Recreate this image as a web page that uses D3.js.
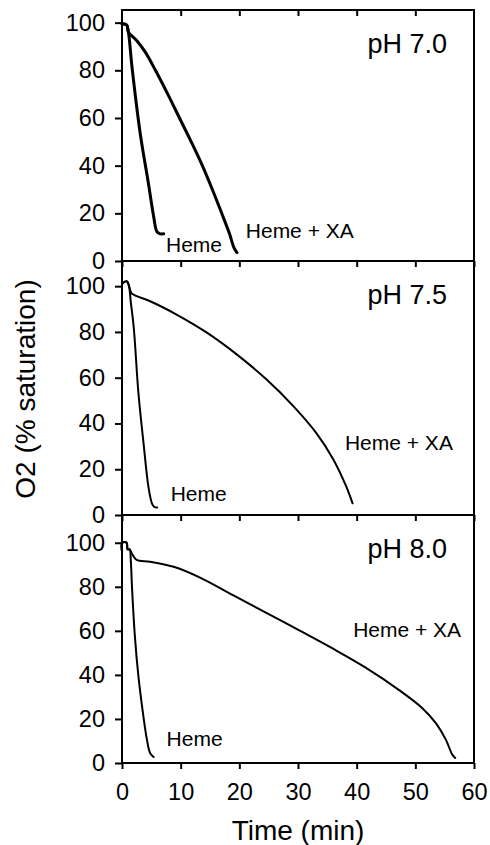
<!DOCTYPE html>
<html>
<head>
<meta charset="utf-8">
<script src="https://cdn.jsdelivr.net/npm/d3@7"></script>
<style>
  body { margin: 0; background: #fff; }
  svg { display: block; font-family: "Liberation Sans", Arial, sans-serif; }
</style>
</head>
<body>
<div id="chart"></div>
<script>
// time (min) ticks and O2 ticks
var timeTicks = [0, 10, 20, 30, 40, 50, 60];
var o2Ticks = [0, 20, 40, 60, 80, 100];
var phLabels = ["pH 7.0", "pH 7.5", "pH 8.0"];

// [time, O2 %]
var ph70Heme = [[0,99.5],[0.8,99],[1.1,96],[1.7,81.5],[3.1,53.6],[4.5,32.6],[5.4,18.6],[5.95,12.3],[6.4,11.5],[7.1,11.4]];
var ph70HemeXA = [[0,99.5],[0.8,99],[1.1,96],[2.5,92.5],[4,87.5],[5.7,80],[7.8,70],[9.8,60],[11.8,50],[13.7,40],[15.4,30],[17.0,20],[18.3,11.6],[19.1,5.5],[19.6,3.5]];

var ph75Heme = [[0,101],[0.5,102],[0.9,102],[1.2,100],[1.5,93],[2.0,82],[2.8,53.3],[3.67,31.4],[4.5,12.4],[5.1,5.1],[5.5,3.5],[6.0,3.3]];
var ph75HemeXA = [[0,101],[0.5,102],[0.9,102],[1.2,100],[1.6,97],[2.2,96],[4.8,93.4],[9.3,87.6],[14.4,79.8],[19.5,70.3],[24.6,59.3],[29.2,47.6],[33.1,35.9],[36.0,24.4],[38.2,12.6],[39.3,5.1]];

var ph80Heme = [[0,96],[0.02,100],[0.8,100],[0.95,97],[1.3,97],[1.5,92],[1.7,80.1],[2.2,57.4],[2.8,39.3],[3.57,22.7],[4.25,10.6],[4.8,4.5],[5.4,2.7]];
var ph80HemeXA = [[0,96],[0.02,100],[0.8,100],[0.95,97],[1.3,97],[1.7,95],[2.5,92.2],[4.8,91.4],[8.8,89.1],[13.3,84.2],[19.0,76.1],[24.6,68.2],[30.3,60.1],[35.9,52.0],[41.6,43.2],[47.3,33.0],[51.2,24.9],[53.5,18.1],[55.2,10.6],[56.3,3.8],[56.8,2.3]];

// curve labels: [text, time, O2]
var ph70Notes = [["Heme", 7.5, 3.9], ["Heme + XA", 21.1, 9.7]];
var ph75Notes = [["Heme", 8.3, 6.3], ["Heme + XA", 38.0, 28.5]];
var ph80Notes = [["Heme", 7.6, 7.8], ["Heme + XA", 39.4, 57.1]];

var panels = [
  {ph: phLabels[0], heme: ph70Heme, xa: ph70HemeXA, notes: ph70Notes, top: 10, bottom: 261, ymax: 105.3, lw: 3},
  {ph: phLabels[1], heme: ph75Heme, xa: ph75HemeXA, notes: ph75Notes, top: 261, bottom: 515, ymax: 111, lw: 2},
  {ph: phLabels[2], heme: ph80Heme, xa: ph80HemeXA, notes: ph80Notes, top: 515, bottom: 763, ymax: 112.6, lw: 2}
];

var W = 490, H = 845;
var svg = d3.select("#chart").append("svg").attr("width", W).attr("height", H);

var x = d3.scaleLinear().domain([0, 60]).range([122, 474]);

var line = d3.line().curve(d3.curveCatmullRom.alpha(0.5));

panels.forEach(function(p, i) {
  var y = d3.scaleLinear().domain([0, p.ymax]).range([p.bottom, p.top]);
  line.x(function(d) { return x(d[0]); }).y(function(d) { return y(d[1]); });

  var g = svg.append("g");

  // curves
  [p.heme, p.xa].forEach(function(s) {
    g.append("path").datum(s).attr("d", line)
      .style("fill", "none").style("stroke", "#000")
      .style("stroke-width", p.lw).style("stroke-linejoin", "round").style("stroke-linecap", "round");
  });

  // frame
  g.append("rect").attr("x", x(0)).attr("y", p.top)
    .attr("width", x(60) - x(0)).attr("height", p.bottom - p.top)
    .style("fill", "none").style("stroke", "#000").style("stroke-width", 2);

  // y axis
  var ya = g.append("g").attr("transform", "translate(" + x(0) + ",0)")
    .call(d3.axisLeft(y).tickValues(o2Ticks).tickSize(7).tickPadding(10).tickFormat(d3.format("d")));
  ya.select(".domain").remove();
  ya.selectAll("line").style("stroke-width", 2);
  ya.selectAll("text").style("font-size", "23.5px").attr("fill", "#000");

  // x axis along bottom, ticks pointing down
  var xa = g.append("g").attr("transform", "translate(0," + p.bottom + ")")
    .call(d3.axisBottom(x).tickValues(timeTicks).tickSize(6).tickPadding(14)
      .tickFormat(i == panels.length - 1 ? d3.format("d") : ""));
  xa.select(".domain").remove();
  xa.selectAll("line").style("stroke-width", 2);
  xa.selectAll("text").style("font-size", "23.5px").attr("fill", "#000");

  // top panel gets inner ticks on its top edge
  if (i == 0) {
    var xt = g.append("g").attr("transform", "translate(0," + p.top + ")")
      .call(d3.axisTop(x).tickValues(timeTicks.slice(1, -1)).tickSize(-6).tickFormat(""));
    xt.select(".domain").remove();
    xt.selectAll("line").style("stroke-width", 2);
  }

  // pH label
  g.append("text").attr("x", x(55.4)).attr("y", p.top + 43)
    .attr("text-anchor", "end").style("font-size", "27px").text(p.ph);

  // curve labels
  g.selectAll(".note").data(p.notes).enter().append("text")
    .attr("x", function(d) { return x(d[1]); })
    .attr("y", function(d) { return y(d[2]); })
    .style("font-size", "21px").text(function(d) { return d[0]; });
});

// axis titles
svg.append("text").attr("x", (x(0) + x(60)) / 2).attr("y", 840)
  .attr("text-anchor", "middle").style("font-size", "28px").text("Time (min)");
svg.append("text").attr("transform", "translate(35,389) rotate(-90)")
  .attr("text-anchor", "middle").style("font-size", "28px").text("O2 (% saturation)");
</script>
</body>
</html>
